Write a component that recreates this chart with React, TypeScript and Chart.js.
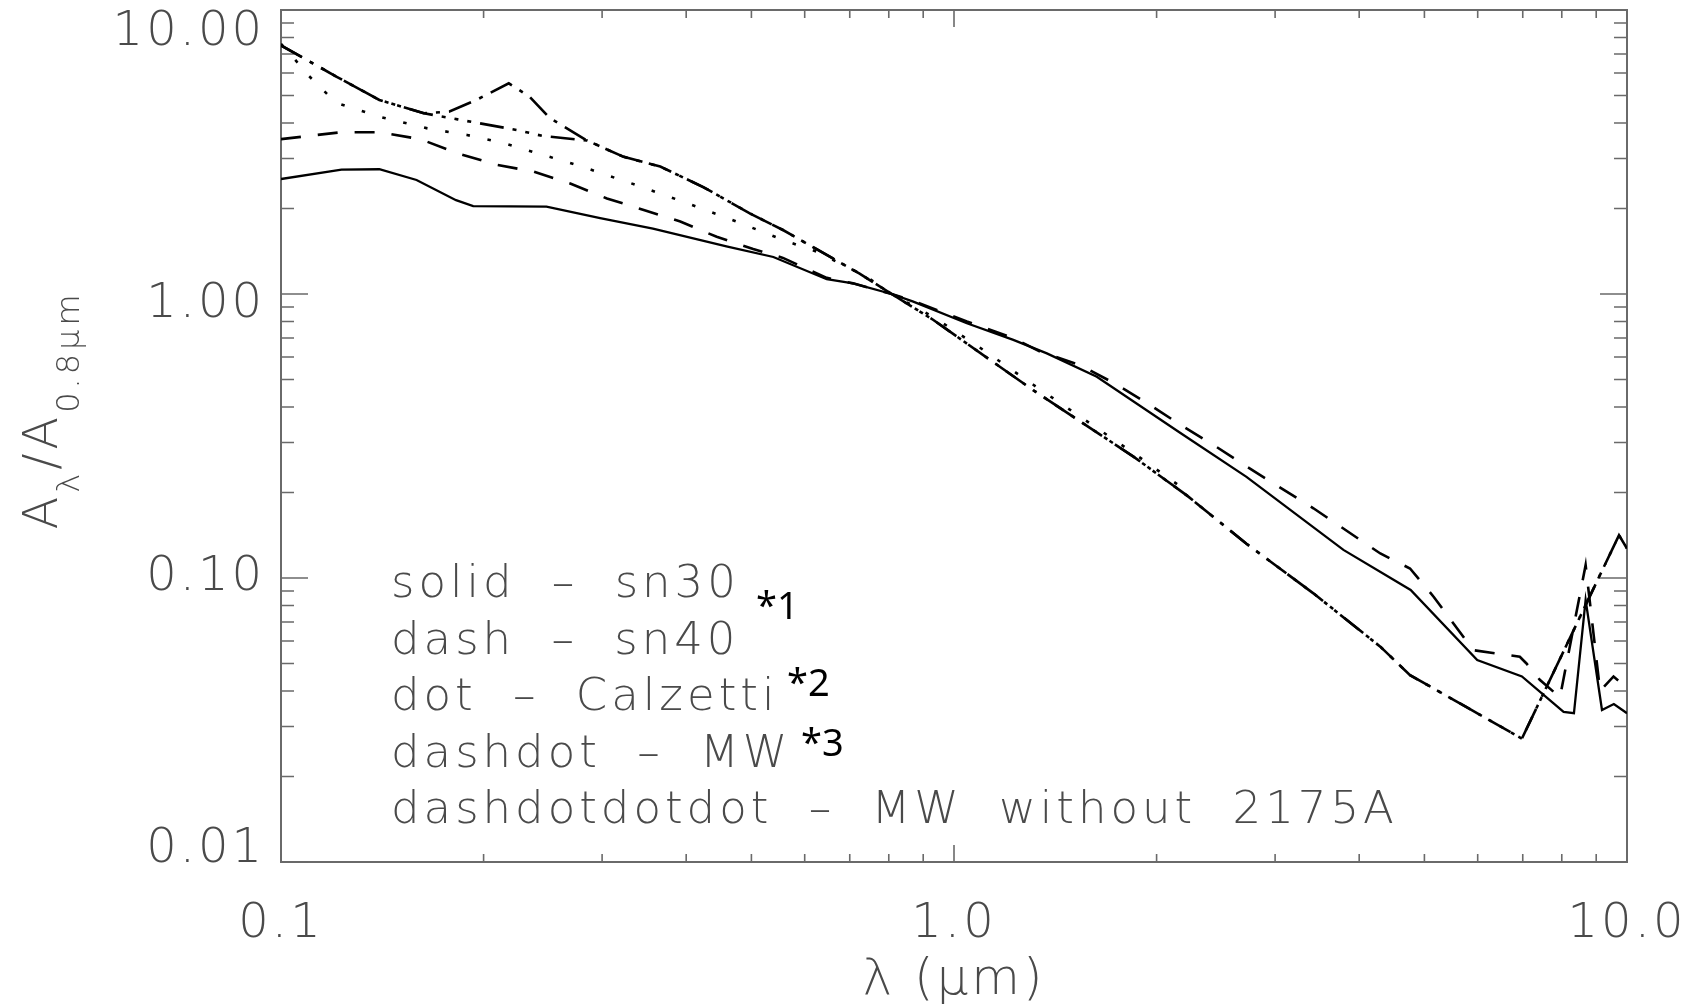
import React, { useEffect, useRef } from 'react';
import { Chart, registerables } from 'chart.js';

Chart.register(...registerables);

const WIDTH = 1702;
const HEIGHT = 1007;

// Extinction curves, A_lambda / A_0.8um, against wavelength in um
const sn30Wave = [0.1, 0.123, 0.14, 0.159, 0.182, 0.193, 0.248, 0.298, 0.357, 0.459, 0.539, 0.647, 0.708, 0.808, 0.87, 1.045, 1.225, 1.374, 1.63, 2.17, 2.72, 3.79, 4.77, 5.99, 6.98, 8.05, 8.34, 8.68, 9.18, 9.56, 10.0];
const sn30Ratio = [2.54, 2.74, 2.75, 2.52, 2.14, 2.04, 2.03, 1.85, 1.7, 1.47, 1.35, 1.127, 1.09, 1.0, 0.94, 0.789, 0.689, 0.618, 0.511, 0.324, 0.227, 0.1256, 0.0908, 0.0514, 0.045, 0.0338, 0.0334, 0.0837, 0.0343, 0.036, 0.0334];

const sn40Wave = [0.1, 0.1225, 0.14, 0.161, 0.183, 0.209, 0.237, 0.269, 0.305, 0.345, 0.392, 0.444, 0.503, 0.557, 0.647, 0.708, 0.808, 0.87, 1.045, 1.225, 1.343, 1.54, 1.73, 1.94, 2.17, 2.43, 2.72, 3.42, 4.3, 4.76, 5.16, 5.91, 6.93, 7.09, 7.42, 7.95, 8.68, 9.12, 9.55, 10.0];
const sn40Ratio = [3.51, 3.71, 3.71, 3.51, 3.13, 2.85, 2.7, 2.45, 2.17, 1.98, 1.8, 1.59, 1.44, 1.34, 1.14, 1.09, 1.0, 0.945, 0.8, 0.7, 0.626, 0.562, 0.485, 0.412, 0.346, 0.294, 0.247, 0.176, 0.122, 0.108, 0.0859, 0.0557, 0.0528, 0.05, 0.0438, 0.038, 0.111, 0.04, 0.045, 0.041];

const calzettiWave = [0.1, 0.104, 0.11, 0.1175, 0.1216, 0.14, 0.165, 0.189, 0.214, 0.245, 0.281, 0.337, 0.401, 0.475, 0.557, 0.625, 0.741, 0.808, 0.932, 1.08, 1.31, 1.85, 2.2];
const calzettiRatio = [7.6, 6.85, 5.86, 5.02, 4.69, 4.21, 3.83, 3.63, 3.4, 3.09, 2.8, 2.42, 2.09, 1.8, 1.55, 1.41, 1.15, 1.0, 0.83, 0.66, 0.48, 0.275, 0.205];

const mwWave = [0.1, 0.121, 0.14, 0.163, 0.178, 0.195, 0.218, 0.234, 0.251, 0.285, 0.323, 0.366, 0.424, 0.498, 0.557, 0.724, 0.808, 0.932, 1.31, 1.85, 2.22, 2.72, 3.42, 4.3, 4.76, 6.98, 9.73, 10.0];
const mwRatio = [7.5, 5.82, 4.82, 4.33, 4.39, 4.82, 5.52, 4.95, 4.16, 3.47, 3.04, 2.81, 2.38, 1.92, 1.68, 1.18, 1.0, 0.81, 0.459, 0.267, 0.195, 0.132, 0.0883, 0.0573, 0.0455, 0.0272, 0.1415, 0.127];

const mwNoBumpWave = [0.1, 0.121, 0.14, 0.163, 0.183, 0.224, 0.245, 0.285, 0.323, 0.366, 0.424, 0.498, 0.557, 0.724, 0.808, 0.932, 1.31, 1.85, 2.22, 2.72, 3.42, 4.3, 4.76, 6.98, 9.73, 10.0];
const mwNoBumpRatio = [7.5, 5.82, 4.82, 4.33, 4.12, 3.78, 3.6, 3.47, 3.04, 2.81, 2.38, 1.92, 1.68, 1.18, 1.0, 0.81, 0.459, 0.267, 0.195, 0.132, 0.0883, 0.0573, 0.0455, 0.0272, 0.1415, 0.127];

// Axis ticks
const xTickValues = [0.1, 1, 10];
const xTickLabels = ['0.1', '1.0', '10.0'];
const yTickValues = [10, 1, 0.1, 0.01];
const yTickLabels = ['10.00', '1.00', '0.10', '0.01'];

// Key text written inside the plot
const keyLines = ['solid – sn30', 'dash – sn40', 'dot – Calzetti', 'dashdot – MW', 'dashdotdotdot – MW without 2175A'];
const noteTexts = ['*1', '*2', '*3'];

const TEXT_FAMILY = '"DejaVu Sans", sans-serif';
const TEXT_WEIGHT = 200;
const TEXT_COLOR = '#4a4a4a';
const FRAME_COLOR = '#6a6a6a';

const zip = (xs: number[], ys: number[]) => xs.map((x, i) => ({ x, y: ys[i] }));

const framePlugin = {
  id: 'idlFrame',
  beforeDraw(chart: any) {
    chart.ctx.letterSpacing = '3px';
  },
  beforeDatasetsDraw(chart: any) {
    const { ctx, chartArea: a, scales } = chart;
    const xs = scales.x;
    const ys = scales.y;
    ctx.save();
    ctx.strokeStyle = FRAME_COLOR;
    ctx.lineWidth = 2;
    ctx.strokeRect(a.left, a.top, a.right - a.left, a.bottom - a.top);
    ctx.lineWidth = 1.6;
    ctx.beginPath();
    const x0 = Math.round(Math.log10(xs.min));
    const x1 = Math.round(Math.log10(xs.max));
    for (let d = x0; d < x1; d++) {
      for (let m = 1; m <= 9; m++) {
        const px = xs.getPixelForValue(m * Math.pow(10, d));
        const len = m === 1 ? 17 : 8;
        ctx.moveTo(px, a.bottom);
        ctx.lineTo(px, a.bottom - len);
        ctx.moveTo(px, a.top);
        ctx.lineTo(px, a.top + len);
      }
    }
    const y0 = Math.round(Math.log10(ys.min));
    const y1 = Math.round(Math.log10(ys.max));
    for (let d = y0; d < y1; d++) {
      for (let m = 1; m <= 9; m++) {
        const py = ys.getPixelForValue(m * Math.pow(10, d));
        const len = m === 1 ? 27 : 13;
        ctx.moveTo(a.left, py);
        ctx.lineTo(a.left + len, py);
        ctx.moveTo(a.right, py);
        ctx.lineTo(a.right - len, py);
      }
    }
    ctx.stroke();
    ctx.restore();
  },
  afterDraw(chart: any) {
    const { ctx, chartArea: a, scales } = chart;
    const ys = scales.y;
    ctx.save();
    ctx.fillStyle = TEXT_COLOR;

    // y tick labels, kept inside the axis span like the plotting package does
    ctx.font = `${TEXT_WEIGHT} 48px ${TEXT_FAMILY}`;
    ctx.letterSpacing = '3px';
    ctx.textAlign = 'right';
    ctx.textBaseline = 'alphabetic';
    const digitH = 35;
    yTickValues.forEach((v, i) => {
      const py = ys.getPixelForValue(v);
      const frac = (py - a.top) / (a.bottom - a.top);
      ctx.fillText(yTickLabels[i], a.left - 16, py + digitH * (1 - frac));
    });

    // y axis title: A_lambda / A_0.8um
    const parts = [
      { t: 'A', sub: false },
      { t: 'λ', sub: true },
      { t: '/', sub: false },
      { t: 'A', sub: false },
      { t: '0.8μm', sub: true },
    ];
    const mainFont = `${TEXT_WEIGHT} 48px ${TEXT_FAMILY}`;
    const subFont = `${TEXT_WEIGHT} 32px ${TEXT_FAMILY}`;
    ctx.letterSpacing = '4px';
    let total = 0;
    const widths = parts.map((p) => {
      ctx.font = p.sub ? subFont : mainFont;
      const w = ctx.measureText(p.t).width;
      total += w;
      return w;
    });
    ctx.translate(57, 410);
    ctx.rotate(-Math.PI / 2);
    ctx.textAlign = 'left';
    let cx = -total / 2;
    parts.forEach((p, i) => {
      ctx.font = p.sub ? subFont : mainFont;
      ctx.fillText(p.t, cx, p.sub ? 22 : 0);
      cx += widths[i];
    });
    ctx.setTransform(1, 0, 0, 1, 0, 0);

    // key text
    ctx.font = `${TEXT_WEIGHT} 45px ${TEXT_FAMILY}`;
    ctx.letterSpacing = '4px';
    (ctx as any).wordSpacing = '18px';
    ctx.textAlign = 'left';
    keyLines.forEach((line, i) => {
      ctx.fillText(line, 391, 597 + i * 56.6);
    });
    (ctx as any).wordSpacing = '0px';

    // footnote markers
    ctx.letterSpacing = '0px';
    ctx.fillStyle = '#000000';
    ctx.font = `400 38px "Noto Sans", sans-serif`;
    const notePos = [
      { x: 756, y: 619 },
      { x: 787, y: 696 },
      { x: 801, y: 756 },
    ];
    noteTexts.forEach((t, i) => ctx.fillText(t, notePos[i].x, notePos[i].y));
    ctx.restore();
    ctx.letterSpacing = '0px';
  },
};

export default function App() {
  const canvasRef = useRef<HTMLCanvasElement>(null);

  useEffect(() => {
    document.body.style.margin = '0';
    document.body.style.background = '#ffffff';
    const canvas = canvasRef.current;
    if (!canvas) return;

    const lineStyle = { borderColor: '#000000', borderWidth: 2.6, pointRadius: 0, tension: 0, fill: false, borderCapStyle: 'butt' as const };

    const chart = new Chart(canvas, {
      type: 'line',
      data: {
        datasets: [
          { label: 'sn30', data: zip(sn30Wave, sn30Ratio), ...lineStyle, borderWidth: 2.3 },
          { label: 'sn40', data: zip(sn40Wave, sn40Ratio), ...lineStyle, borderDash: [20, 17] },
          { label: 'Calzetti', data: zip(calzettiWave, calzettiRatio), ...lineStyle, borderDash: [3.5, 18] },
          { label: 'MW', data: zip(mwWave, mwRatio), ...lineStyle, borderDash: [24, 9, 4, 9] },
          { label: 'MW without 2175A', data: zip(mwNoBumpWave, mwNoBumpRatio), ...lineStyle, borderDash: [24, 9, 4, 9, 4, 9, 4, 9] },
        ],
      },
      options: {
        animation: false,
        responsive: false,
        maintainAspectRatio: false,
        devicePixelRatio: 1,
        layout: { padding: { left: 0, right: 75, top: 10, bottom: 0 } },
        plugins: { legend: { display: false }, tooltip: { enabled: false } },
        scales: {
          x: {
            type: 'logarithmic',
            min: 0.1,
            max: 10,
            grid: { display: false },
            border: { display: false },
            afterBuildTicks: (scale: any) => {
              scale.ticks = xTickValues.map((v) => ({ value: v, major: true }));
            },
            afterFit: (scale: any) => {
              scale.height = 145;
              scale.paddingLeft = 0;
              scale.paddingRight = 0;
            },
            ticks: {
              autoSkip: false,
              maxRotation: 0,
              padding: 26,
              color: TEXT_COLOR,
              font: { family: TEXT_FAMILY, size: 48, weight: TEXT_WEIGHT as any },
              callback: (v: any) => {
                const i = xTickValues.indexOf(Number(v));
                return i >= 0 ? xTickLabels[i] : '';
              },
            },
            title: {
              display: true,
              text: 'λ (μm)',
              color: TEXT_COLOR,
              font: { family: TEXT_FAMILY, size: 50, weight: TEXT_WEIGHT as any, lineHeight: 1 },
              padding: { top: 0, bottom: 1 },
            },
          },
          y: {
            type: 'logarithmic',
            min: 0.01,
            max: 10,
            grid: { display: false },
            border: { display: false },
            ticks: { display: false },
            afterFit: (scale: any) => {
              scale.width = 281;
              scale.paddingTop = 0;
              scale.paddingBottom = 0;
            },
          },
        },
      },
      plugins: [framePlugin],
    } as any);

    return () => chart.destroy();
  }, []);

  return (
    <div style={{ width: WIDTH, height: HEIGHT, background: '#ffffff' }}>
      <canvas ref={canvasRef} width={WIDTH} height={HEIGHT} style={{ display: 'block' }} />
    </div>
  );
}
